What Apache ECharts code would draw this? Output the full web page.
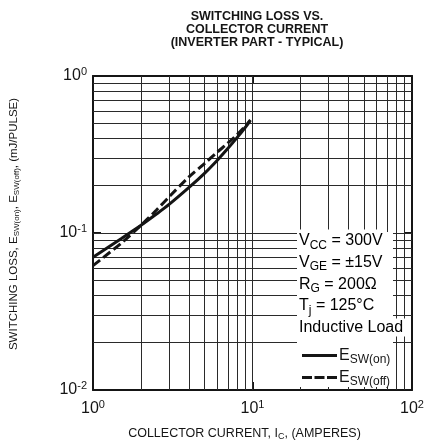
<!DOCTYPE html>
<html>
<head>
<meta charset="utf-8">
<script src="https://cdn.jsdelivr.net/npm/echarts@6/dist/echarts.min.js"></script>
<style>
  html, body { margin: 0; padding: 0; background: #fff; }
  #chart { width: 438px; height: 446px; }
</style>
</head>
<body>
<div id="chart"></div>
<script>
// values (A, mJ/pulse)
const currentOn = [1, 1.5, 2, 2.5, 3, 4, 5, 6, 7, 8, 9, 9.7];
const lossOn = [0.070, 0.092, 0.112, 0.132, 0.152, 0.195, 0.24, 0.29, 0.345, 0.405, 0.47, 0.52];
const currentOff = [1, 1.5, 2, 2.5, 3, 4, 5, 6, 7, 8, 9, 9.7];
const lossOff = [0.062, 0.086, 0.112, 0.140, 0.170, 0.228, 0.277, 0.327, 0.373, 0.423, 0.478, 0.525];

// minor grid of the log paper
const xGrid = [2, 3, 4, 5, 6, 7, 8, 9, 10, 20, 30, 40, 50, 60, 70, 80, 90];
const yGrid = [0.02, 0.03, 0.04, 0.05, 0.06, 0.07, 0.08, 0.09, 0.1, 0.2, 0.3, 0.4, 0.5, 0.6, 0.7, 0.8, 0.9];

const conditions = [
  '{n|V}{s|CC}{n| = 300V}',
  '{n|V}{s|GE}{n| = ±15V}',
  '{n|R}{s|G}{n| = 200Ω}',
  '{n|T}{s|j}{n| = 125°C}',
  '{n|Inductive Load}'
];
const seriesNames = { on: '{n|E}{s|SW(on)}', off: '{n|E}{s|SW(off)}' };

const FONT = 'Liberation Sans, Arial, sans-serif';
const ink = '#151515';

const pairs = (xs, ys) => xs.map((x, i) => [x, ys[i]]);

const powRich = {
  b: { fontSize: 16, fontFamily: FONT, color: ink },
  p: { fontSize: 11, fontFamily: FONT, color: ink, padding: [0, 0, 8, 0] }
};
const powLabel = (v) => '{b|10}{p|' + Math.round(Math.log10(v)) + '}';

const textRich = {
  n: { fontSize: 16, fontFamily: FONT, color: ink },
  s: { fontSize: 12, fontFamily: FONT, color: ink, padding: [9, 0, 0, 0] }
};

const axisBase = {
  type: 'log',
  logBase: 10,
  axisLine: { show: true, onZero: false, lineStyle: { color: ink, width: 2 } },
  axisTick: { inside: true, length: 8, lineStyle: { color: ink, width: 2 } },
  splitLine: { show: false },
  minorTick: { show: false }
};

const chart = echarts.init(document.getElementById('chart'), null, { renderer: 'canvas' });

const option = {
  animation: false,
  backgroundColor: '#fff',
  title: {
    text: 'SWITCHING LOSS VS.\nCOLLECTOR CURRENT\n(INVERTER PART - TYPICAL)',
    left: 252,
    top: 5,
    textAlign: 'center',
    textStyle: { fontFamily: FONT, fontSize: 12.5, fontWeight: 'bold', lineHeight: 13, color: ink }
  },
  grid: { left: 92, top: 76, width: 320, height: 320, containLabel: false },
  xAxis: [
    Object.assign({}, axisBase, {
      min: 1, max: 100, position: 'bottom',
      axisLabel: { formatter: powLabel, rich: powRich, margin: 9 },
      name: '{n|COLLECTOR CURRENT, I}{s|C}{n|, (AMPERES)}',
      nameLocation: 'middle',
      nameGap: 36,
      nameTextStyle: {
        padding: [0, 16, 0, 0],
        rich: {
          n: { fontSize: 12.5, fontFamily: FONT, color: ink },
          s: { fontSize: 9, fontFamily: FONT, color: ink, padding: [6, 0, 0, 0] }
        }
      }
    }),
    Object.assign({}, axisBase, { min: 1, max: 100, position: 'top', axisLabel: { show: false } })
  ],
  yAxis: [
    Object.assign({}, axisBase, {
      min: 0.01, max: 1, position: 'left',
      axisLabel: { formatter: powLabel, rich: powRich, margin: 6 },
      name: '{n|SWITCHING LOSS, E}{s|SW(on)}{n|, E}{s|SW(off)}{n|, (mJ/PULSE)}',
      nameLocation: 'middle',
      nameRotate: 90,
      nameGap: 72,
      nameTextStyle: {
        padding: [0, 0, 0, 18],
        rich: {
          n: { fontSize: 11.5, fontFamily: FONT, color: ink },
          s: { fontSize: 8, fontFamily: FONT, color: ink, padding: [6, 0, 0, 0] }
        }
      }
    }),
    Object.assign({}, axisBase, { min: 0.01, max: 1, position: 'right', axisLabel: { show: false } })
  ],
  legend: [
    {
      data: [{ name: 'on', icon: 'rect' }], left: 302, top: 347.5, padding: 0, itemGap: 0,
      itemWidth: 35, itemHeight: 3, selectedMode: false, z: 30,
      itemStyle: { color: ink },
      formatter: (n) => seriesNames[n],
      textStyle: { rich: textRich, padding: [0, 0, 0, -3] }
    },
    {
      data: [{ name: 'off', icon: 'path://M0,0h10v3h-10z M12.5,0h10v3h-10z M25,0h10v3h-10z' }],
      left: 302, top: 369.5, padding: 0, itemGap: 0,
      itemWidth: 35, itemHeight: 3, selectedMode: false, z: 30,
      itemStyle: { color: ink },
      formatter: (n) => seriesNames[n],
      textStyle: { rich: textRich, padding: [0, 0, 0, -3] }
    }
  ],
  graphic: [
    {
      type: 'rect', z: 20, silent: true,
      shape: { x: 297, y: 232, width: 96, height: 155 },
      style: { fill: '#fff' }
    }
  ].concat(conditions.map((t, i) => ({
    type: 'text', z: 21, silent: true,
    style: {
      text: t, x: 299, y: 241 + i * 21.6,
      verticalAlign: 'middle',
      rich: textRich,
      backgroundColor: '#fff',
      padding: [1, 2, 1, 0]
    }
  }))),
  series: [
    {
      name: 'paper',
      type: 'line',
      data: [[1, 0.01]],
      symbol: 'none',
      silent: true,
      z: 1,
      lineStyle: { opacity: 0 },
      markLine: {
        silent: true,
        symbol: 'none',
        animation: false,
        label: { show: false },
        lineStyle: { color: '#2a2a2a', width: 1, type: 'solid' },
        emphasis: { disabled: true },
        data: xGrid.map((v) => ({ xAxis: v })).concat(yGrid.map((v) => ({ yAxis: v })))
      }
    },
    {
      name: 'on',
      type: 'line',
      data: pairs(currentOn, lossOn),
      smooth: 0.3,
      symbol: 'none',
      z: 5,
      lineStyle: { color: ink, width: 3 },
      itemStyle: { color: ink }
    },
    {
      name: 'off',
      type: 'line',
      data: pairs(currentOff, lossOff),
      smooth: 0.3,
      symbol: 'none',
      z: 5,
      lineStyle: { color: ink, width: 3, type: [9, 4] },
      itemStyle: { color: ink }
    }
  ]
};

chart.setOption(option);
</script>
</body>
</html>
